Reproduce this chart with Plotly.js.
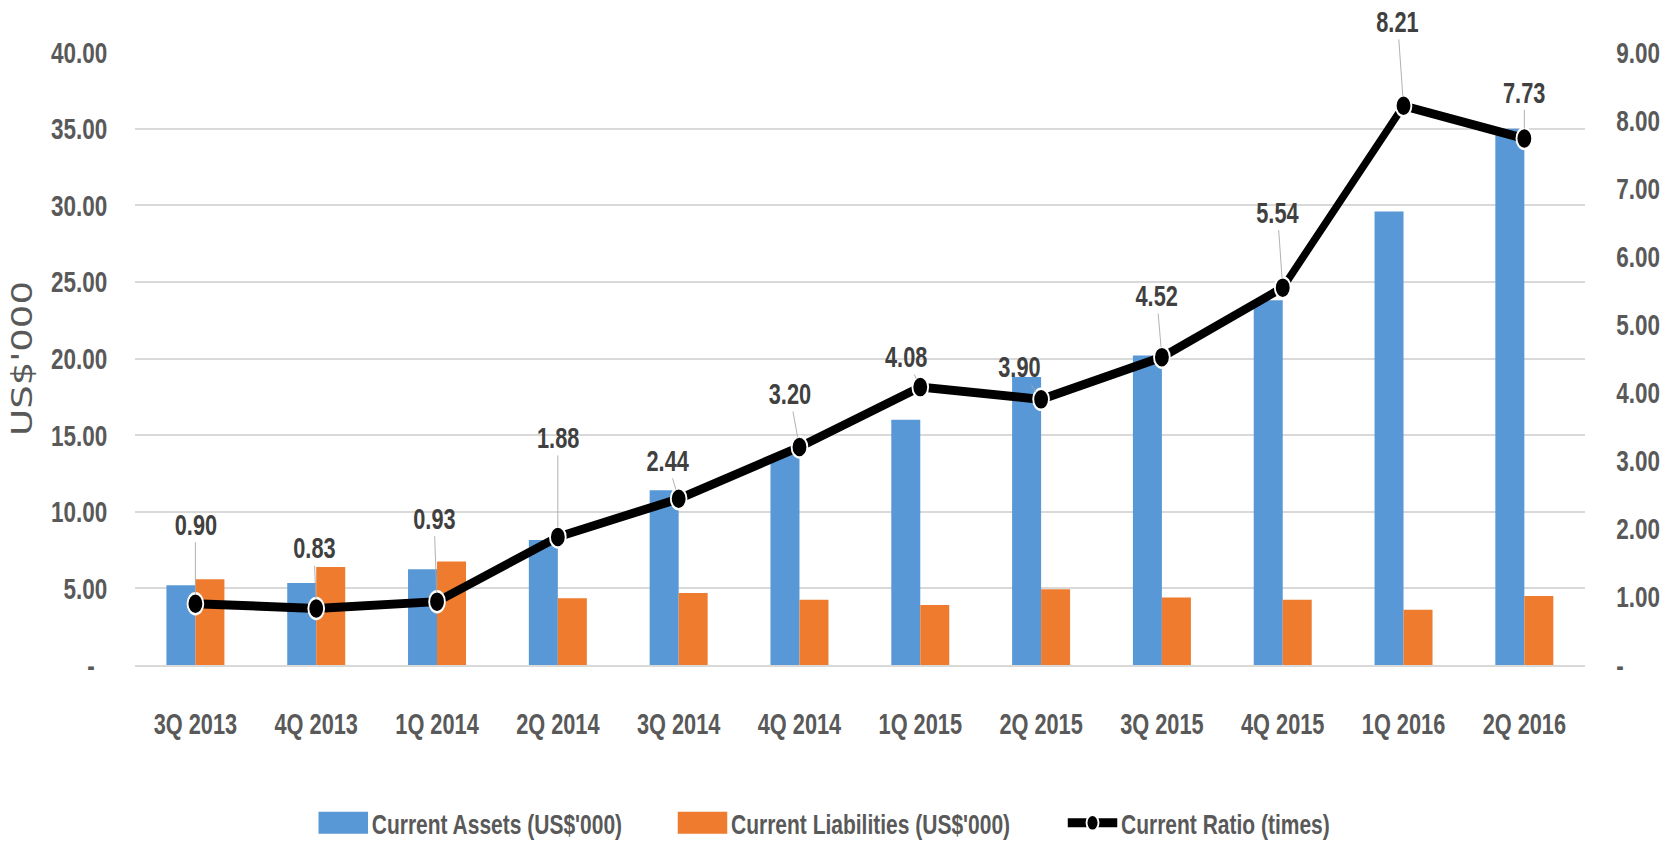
<!DOCTYPE html>
<html>
<head>
<meta charset="utf-8">
<script src="https://cdn.plot.ly/plotly-3.0.1.min.js"></script>
<style>
  html, body { margin: 0; padding: 0; background: #ffffff; overflow: hidden; width: 1670px; height: 844px; }
  /* the reference chart is horizontally compressed; draw wider and squeeze to 1670px */
  #chart { width: 2227px; height: 844px; transform: scaleX(0.75); transform-origin: 0 0; }
</style>
</head>
<body>
<div id="chart"></div>
<script>
// ---- data ----
const categories = ['3Q 2013','4Q 2013','1Q 2014','2Q 2014','3Q 2014','4Q 2014',
                    '1Q 2015','2Q 2015','3Q 2015','4Q 2015','1Q 2016','2Q 2016'];
const currentAssets      = [5.2, 5.35, 6.25, 8.15, 11.4, 13.7, 16.0, 18.8, 20.2, 23.8, 29.6, 35.0];
const currentLiabilities = [5.6, 6.4, 6.75, 4.35, 4.7, 4.25, 3.92, 4.95, 4.4, 4.25, 3.6, 4.5];
const currentRatio       = [0.90, 0.83, 0.93, 1.88, 2.44, 3.20, 4.08, 3.90, 4.52, 5.54, 8.21, 7.73];

const seriesNames = ["Current Assets (US$'000)", "Current Liabilities (US$'000)", "Current Ratio (times)"];

const leftTickVals  = [0, 5, 10, 15, 20, 25, 30, 35, 40];
const leftTickText  = ['-\u00a0\u00a0', '5.00', '10.00', '15.00', '20.00', '25.00', '30.00', '35.00', '40.00'];
const rightTickVals = [0, 1, 2, 3, 4, 5, 6, 7, 8, 9];
const rightTickText = ['-', '1.00', '2.00', '3.00', '4.00', '5.00', '6.00', '7.00', '8.00', '9.00'];

// label placement offsets (pixels, before the horizontal squeeze) for the ratio data labels
const labelDx = [0, -3, -4, 0, -15, -13, -19, -29, -7, -7, -8, 0];
const labelDy = [-79, -60, -83, -99, -38, -53, -30, -32, -61, -75, -84, -46];

const FONT = '"Liberation Sans", Arial, sans-serif';
const TEXT = '#595959';

const traces = [
  {
    type: 'bar', name: seriesNames[0], x: categories, y: currentAssets,
    marker: { color: '#5898d6' }, yaxis: 'y', hoverinfo: 'x+y', legendwidth: 398
  },
  {
    type: 'bar', name: seriesNames[1], x: categories, y: currentLiabilities,
    marker: { color: '#ee7b2e' }, yaxis: 'y', hoverinfo: 'x+y', legendwidth: 439
  },
  {
    type: 'scatter', mode: 'lines+markers', name: seriesNames[2], x: categories, y: currentRatio,
    yaxis: 'y2', cliponaxis: false,
    line: { color: '#000000', width: 9 },
    marker: { color: '#000000', size: 21, line: { color: '#ffffff', width: 2.5 } }
  }
];

const annotations = currentRatio.map((v, i) => ({
  x: categories[i], y: v, xref: 'x', yref: 'y2',
  text: '<b>' + v.toFixed(2) + '</b>',
  showarrow: true, arrowhead: 0, arrowwidth: 1, arrowcolor: '#a6a6a6',
  standoff: 10, ax: labelDx[i], ay: labelDy[i],
  font: { family: FONT, size: 29, color: '#404040' }
}));

const layout = {
  width: 2227, height: 844,
  paper_bgcolor: '#ffffff', plot_bgcolor: '#ffffff',
  margin: { l: 180, r: 114, t: 52, b: 179, autoexpand: false },
  barmode: 'group', bargap: 0.52, bargroupgap: 0,
  showlegend: true,
  legend: {
    orientation: 'h', x: 0.124, xanchor: 'left', y: -0.258, yanchor: 'middle',
    font: { family: FONT, size: 28, color: TEXT, weight: 'bold' },
    itemwidth: 66, tracegroupgap: 0
  },
  xaxis: {
    type: 'category', range: [-0.5, categories.length - 0.5],
    showgrid: false, zeroline: false,
    showline: true, linecolor: '#d9d9d9', linewidth: 2,
    ticks: '', ticklabelstandoff: 32,
    tickfont: { family: FONT, size: 29, color: TEXT, weight: 'bold' }
  },
  yaxis: {
    range: [0, 40], tickvals: leftTickVals, ticktext: leftTickText,
    showgrid: true, gridcolor: '#d9d9d9', gridwidth: 1.5,
    zeroline: false, showline: false, ticks: '', ticklabelstandoff: 36,
    tickfont: { family: FONT, size: 30, color: TEXT, weight: 'bold' },
    title: { text: "US$'000", standoff: 13, font: { family: '"DejaVu Sans", sans-serif', size: 37, color: TEXT } }
  },
  yaxis2: {
    range: [0, 9], tickvals: rightTickVals, ticktext: rightTickText,
    overlaying: 'y', side: 'right', showgrid: false, zeroline: false, showline: false,
    ticks: '', ticklabelstandoff: 41,
    tickfont: { family: FONT, size: 30, color: TEXT, weight: 'bold' }
  },
  annotations: annotations
};

Plotly.newPlot('chart', traces, layout, { displayModeBar: false, responsive: false }).then(gd => {
  // enlarge the legend swatches of the bar series to the reference's wide boxes
  gd.querySelectorAll('.legend .legendpoints path').forEach(p => {
    const d = (p.getAttribute('d') || '').replace(/\s/g, '');
    if (d === 'M6,6H-6V-6H6Z') p.setAttribute('d', 'M33,11H-33V-11H33Z');
  });
});
</script>
</body>
</html>
